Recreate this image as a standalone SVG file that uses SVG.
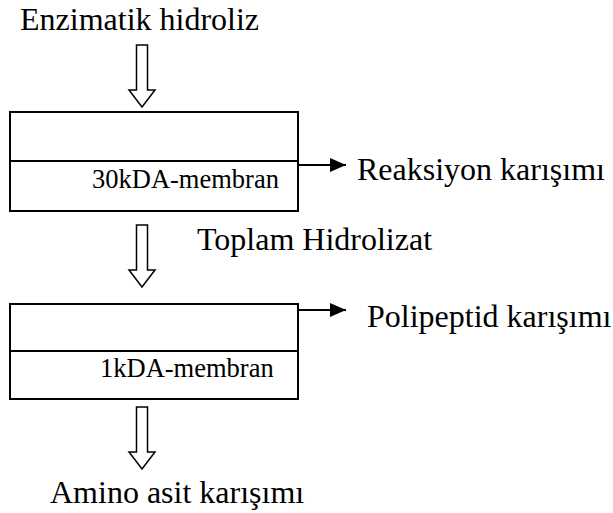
<svg xmlns="http://www.w3.org/2000/svg" width="613" height="513" viewBox="0 0 613 513">
<defs>
<style>
text{font-family:'Liberation Serif','Times New Roman',Times,serif;fill:#000}
.t{font-size:32px}
.s{font-size:26.5px}
.box{fill:#fff;stroke:#000;stroke-width:2}
.hol{fill:#fff;stroke:#000;stroke-width:1.5;stroke-linejoin:miter}
.ln{stroke:#000;stroke-width:2;fill:none}
</style>
<marker id="ah" viewBox="0 0 16 14" refX="16" refY="7" markerWidth="16" markerHeight="14" markerUnits="userSpaceOnUse" orient="auto">
<path d="M0,0 L16,7 L0,14 Z" fill="#000"/>
</marker>
<path id="harrow" d="M-5.5,0 H5.5 V45 H13 L0,62 L-13,45 H-5.5 Z"/>
</defs>
<rect width="613" height="513" fill="#fff"/>
<g id="label-enzimatik"><text class="t" x="20" y="30">Enzimatik hidroliz</text></g>
<g id="box1">
<rect class="box" x="10" y="112" width="288" height="99"/>
<line class="ln" x1="10" y1="161" x2="298" y2="161"/>
<text class="s" x="92" y="188">30kDA-membran</text>
</g>
<g id="label-reaksiyon"><text class="t" x="357" y="180">Reaksiyon karışımı</text></g>
<g id="label-toplam"><text class="t" x="197" y="250">Toplam Hidrolizat</text></g>
<g id="box2">
<rect class="box" x="10" y="304" width="288" height="95"/>
<line class="ln" x1="10" y1="351" x2="298" y2="351"/>
<text class="s" x="100" y="377">1kDA-membran</text>
</g>
<g id="label-polipeptid"><text class="t" x="367" y="327">Polipeptid karışımı</text></g>
<g id="label-amino"><text class="t" x="50" y="503">Amino asit karışımı</text></g>
<g id="connectors">
<use href="#harrow" class="hol" x="142" y="45"/>
<use href="#harrow" class="hol" x="142" y="225"/>
<use href="#harrow" class="hol" x="142" y="407"/>
<line class="ln" x1="298" y1="165" x2="346" y2="165" marker-end="url(#ah)"/>
<line class="ln" x1="298" y1="310" x2="346" y2="310" marker-end="url(#ah)"/>
</g>
</svg>
